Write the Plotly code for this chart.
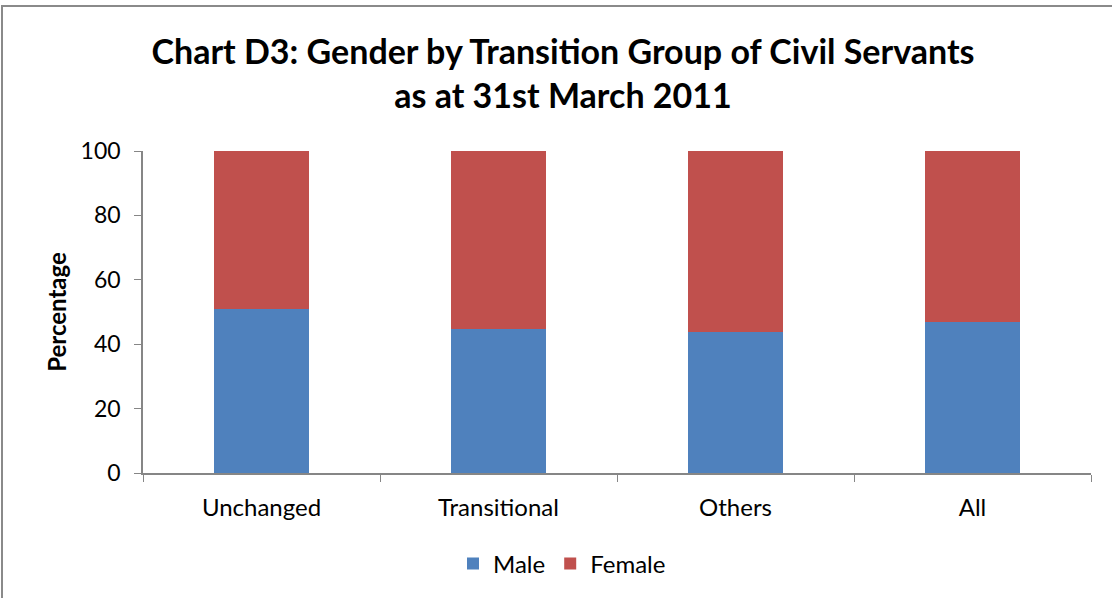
import plotly.graph_objects as go

# Transition groups and gender split (percent)
groups = ["Unchanged", "Transitional", "Others", "All"]
male = [50.9, 44.7, 43.7, 46.8]
female = [49.1, 55.3, 56.3, 53.2]

BLUE = "#4F81BD"
RED = "#C0504D"
FONT = "Lato, Carlito, Calibri, sans-serif"

fig = go.Figure()
fig.add_trace(go.Bar(x=groups, y=male, name="Male", marker=dict(color=BLUE, line=dict(width=0))))
fig.add_trace(go.Bar(x=groups, y=female, name="Female", marker=dict(color=RED, line=dict(width=0))))

W, H = 1112, 598
L, R, T, B = 143, 21, 151, 125
pw, ph = W - L - R, H - T - B

def px_x(x):
    return (x - L) / pw

def px_y(y):
    return (H - B - y) / ph

fig.update_layout(
    width=W, height=H,
    barmode="stack",
    bargap=0.6,
    paper_bgcolor="white",
    plot_bgcolor="white",
    margin=dict(l=L, r=R, t=T, b=B),
    font=dict(family=FONT, color="black", size=23),
    title=dict(
        text="<b>Chart D3: Gender by Transition Group of Civil Servants<br>as at 31st March 2011</b>",
        x=px_x(563), xref="paper", xanchor="center",
        y=1 - 64 / H, yref="container", yanchor="top",
        font=dict(size=34, family=FONT, color="black"),
    ),
    showlegend=True,
    legend=dict(
        orientation="h", x=px_x(562), xanchor="center", y=px_y(564), yanchor="middle",
        font=dict(size=24), itemwidth=30, traceorder="normal",
    ),
    xaxis=dict(
        showline=True, linecolor="#868686", linewidth=1.5,
        ticks="outside", tickson="boundaries", ticklen=7, tickcolor="#868686",
        showgrid=False, tickfont=dict(size=24), ticklabelstandoff=12,
    ),
    yaxis=dict(
        range=[0, 100], dtick=20, showline=True, linecolor="#868686", linewidth=1.5,
        ticks="outside", ticklen=7, tickcolor="#868686", showgrid=False, zeroline=False,
        tickfont=dict(size=23), ticklabelstandoff=9,
        title=dict(text="<b>Percentage</b>", font=dict(size=24), standoff=7),
    ),
    shapes=[
        dict(type="rect", xref="paper", yref="paper",
             x0=px_x(2), x1=px_x(1200), y0=px_y(700), y1=px_y(6),
             line=dict(color="#8A8A8A", width=2), fillcolor="rgba(0,0,0,0)", layer="below"),
    ],
)

fig.write_html("out.html")
